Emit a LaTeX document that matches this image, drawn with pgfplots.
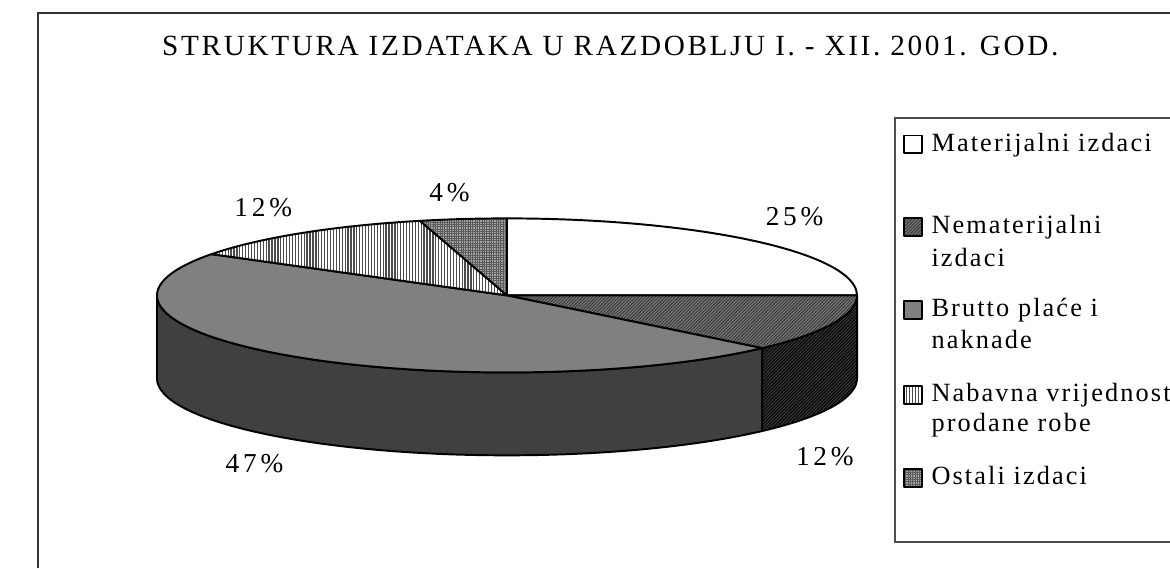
\documentclass[border=0pt]{standalone}
\usepackage{pgfplots}
\pgfplotsset{compat=1.18}
\usepackage{pgfplotstable}
\usetikzlibrary{patterns.meta}
\usepackage{fontspec}
\setmainfont{Liberation Serif}
\newfontfamily\spfont{Liberation Serif}[LetterSpace=9]
\newfontfamily\lgfont{Liberation Serif}[LetterSpace=8]
\newfontfamily\pcfont{Liberation Serif}[LetterSpace=14]

\tikzset{
  pieline/.style={draw=black,line width=1pt,line join=round},
  matS/.style={pieline,fill=white},
  nemS/.style={pieline,preaction={fill=black!55},pattern={Lines[angle=45,distance=1.2pt,line width=0.4pt]},pattern color=black!80},
  nemSide/.style={pieline,preaction={fill=black!80},pattern={Lines[angle=45,distance=1.2pt,line width=0.4pt]},pattern color=black},
  bruS/.style={pieline,fill=black!50},
  bruSide/.style={pieline,fill=black!75},
  nabS/.style={pieline,preaction={fill=white},pattern={Lines[angle=90,distance=1.5pt,line width=0.65pt]},pattern color=black!70},
  ostS/.style={pieline,preaction={fill=black!35},pattern={Hatch[angle=0,distance=1.2pt,line width=0.35pt]},pattern color=black!65},
}

% wedge of the top face: start angle, end angle, style
\newcommand\pieWedge[3]{\path[#3] (axis cs:490,303) -- ++(#1:179.5pt and 39.5pt)
  arc[start angle=#1,end angle=#2,x radius=179.5pt,y radius=39.5pt] -- cycle;}
% side band between the top and bottom rims
\newcommand\pieSide[3]{\path[#3] (axis cs:490,303) ++(#1:179.5pt and 39.5pt)
  arc[start angle=#1,end angle=#2,x radius=179.5pt,y radius=39.5pt] -- ++(0,-42.5pt)
  arc[start angle=#2,end angle=#1,x radius=179.5pt,y radius=39.5pt] -- cycle;}

\begin{document}
\pgfplotstableread{
name pct
Materijalni 25
Nematerijalni 12
Brutto 47
Nabavna 12
Ostali 4
}\piedata
\def\aO{90}
\pgfplotstablegetelem{0}{pct}\of\piedata \pgfmathsetmacro\aA{\aO-3.6*\pgfplotsretval}
\pgfplotstablegetelem{1}{pct}\of\piedata \pgfmathsetmacro\aB{\aA-3.6*\pgfplotsretval}
\pgfplotstablegetelem{2}{pct}\of\piedata \pgfmathsetmacro\aC{\aB-3.6*\pgfplotsretval}
\pgfplotstablegetelem{3}{pct}\of\piedata \pgfmathsetmacro\aD{\aC-3.6*\pgfplotsretval}
\pgfplotstablegetelem{4}{pct}\of\piedata \pgfmathsetmacro\aE{\aD-3.6*\pgfplotsretval}
\begin{tikzpicture}
\begin{axis}[x=0.5pt,y=0.5pt,y dir=reverse,xmin=0,xmax=1170,ymin=0,ymax=583,
  hide axis,ticks=none,scale only axis]
\coordinate (BL) at (axis cs:0,583);
\coordinate (TR) at (axis cs:1170,0);
% outer frame (right and bottom sides lie outside the picture)
\draw[black!80,line width=1pt] (axis cs:9,583) -- (axis cs:9,13) -- (axis cs:1170,13);
% title
\node[anchor=base west,inner sep=0pt,font=\spfont\fontsize{15}{18}\selectfont] at (axis cs:136,57)
  {STRUKTURA IZDATAKA U RAZDOBLJU I. - XII. 2001. GOD.};
% sides
\pieSide{\aA}{\aB}{nemSide}
\pieSide{\aB}{-180}{bruSide}
% top faces
\pieWedge{\aO}{\aA}{matS}
\pieWedge{\aA}{\aB}{nemS}
\pieWedge{\aB}{\aC}{bruS}
\pieWedge{\aC}{\aD}{nabS}
\pieWedge{\aD}{\aE}{ostS}
% data labels
\begin{scope}[every node/.style={inner sep=0pt,font=\pcfont\fontsize{14}{17}\selectfont}]
\node at (axis cs:785,222) {25\%};
\node at (axis cs:816,468) {12\%};
\node at (axis cs:231,475) {47\%};
\node at (axis cs:240,213) {12\%};
\node at (axis cs:431,198) {4\%};
\end{scope}
% legend (its right side lies outside the picture)
\draw[black!70,line width=0.8pt] (axis cs:1170,121) -- (axis cs:888,121) -- (axis cs:888,556) -- (axis cs:1170,556);
\path[matS] (axis cs:897,139) rectangle (axis cs:916,157);
\path[nemS] (axis cs:897,224) rectangle (axis cs:916,242);
\path[bruS] (axis cs:897,309) rectangle (axis cs:916,327);
\path[nabS] (axis cs:897,396) rectangle (axis cs:916,414);
\path[ostS] (axis cs:897,481) rectangle (axis cs:916,499);
\begin{scope}[every node/.style={anchor=base west,inner sep=0pt,font=\lgfont\fontsize{13.5}{16}\selectfont}]
\node at (axis cs:925,155) {Materijalni izdaci};
\node at (axis cs:925,240) {Nematerijalni};
\node at (axis cs:925,273) {izdaci};
\node at (axis cs:925,325) {Brutto plaće i};
\node at (axis cs:925,357) {naknade};
\node at (axis cs:925,412) {Nabavna vrijednost};
\node at (axis cs:925,443) {prodane robe};
\node at (axis cs:925,497) {Ostali izdaci};
\end{scope}
\end{axis}
\pgfresetboundingbox
\path[use as bounding box] (BL) rectangle (TR);
\end{tikzpicture}
\end{document}
